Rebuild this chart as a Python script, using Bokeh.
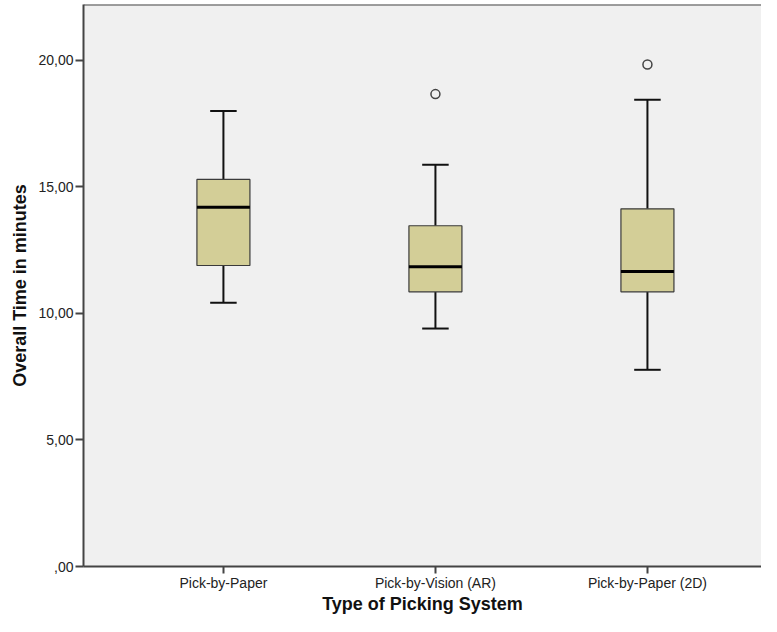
from bokeh.plotting import figure
from bokeh.models import FixedTicker, Span, Range1d
from bokeh.embed import file_html
from bokeh.resources import INLINE

# ---- data ----
categories = ["Pick-by-Paper", "Pick-by-Vision (AR)", "Pick-by-Paper (2D)"]
lower_whisker = [10.42, 9.40, 7.77]
q1 = [11.89, 10.85, 10.85]
median = [14.19, 11.84, 11.65]
q3 = [15.29, 13.46, 14.13]
upper_whisker = [17.99, 15.87, 18.44]
outlier_cat = ["Pick-by-Vision (AR)", "Pick-by-Paper (2D)"]
outlier_val = [18.66, 19.83]
y_ticks = [0, 5, 10, 15, 20]
y_tick_labels = [",00", "5,00", "10,00", "15,00", "20,00"]

pos = [i + 1 for i in range(len(categories))]
pos_of = dict(zip(categories, pos))
out_x = [pos_of[c] for c in outlier_cat]

BOX_W = 0.25
CAP_W = 0.125

p = figure(width=761, height=616, output_backend="svg", toolbar_location=None,
           x_range=Range1d(0.34, 3.538), y_range=Range1d(0, 22.2),
           min_border_left=83, min_border_right=0, min_border_top=4, min_border_bottom=50)

p.background_fill_color = "#f0f0f0"
p.border_fill_color = "white"
p.outline_line_color = None
p.xgrid.grid_line_color = None
p.ygrid.grid_line_color = None

# whiskers
p.segment(x0=pos, x1=pos, y0=q3, y1=upper_whisker, line_color="#111", line_width=2)
p.segment(x0=pos, x1=pos, y0=q1, y1=lower_whisker, line_color="#111", line_width=2)
# caps
p.segment(x0=[x - CAP_W / 2 for x in pos], x1=[x + CAP_W / 2 for x in pos],
          y0=upper_whisker, y1=upper_whisker, line_color="#111", line_width=2)
p.segment(x0=[x - CAP_W / 2 for x in pos], x1=[x + CAP_W / 2 for x in pos],
          y0=lower_whisker, y1=lower_whisker, line_color="#111", line_width=2)
# boxes
p.vbar(x=pos, width=BOX_W, bottom=q1, top=q3, fill_color="#d3ce97",
       line_color="#3a3a3a", line_width=1.2)
# medians
p.segment(x0=[x - BOX_W / 2 for x in pos], x1=[x + BOX_W / 2 for x in pos],
          y0=median, y1=median, line_color="black", line_width=3)
# outliers
p.scatter(x=out_x, y=outlier_val, marker="circle", size=9, fill_color=None,
          line_color="#444", line_width=1.5)

# top frame line
p.add_layout(Span(location=p.y_range.end, dimension="width", line_color="#444", line_width=2))

# axes
for ax in (p.xaxis[0], p.yaxis[0]):
    ax.axis_line_color = "#444"
    ax.axis_line_width = 2
    ax.major_tick_line_color = "#444"
    ax.major_tick_line_width = 2
    ax.major_tick_in = 0
    ax.major_tick_out = 8
    ax.minor_tick_line_color = None
    ax.major_label_text_font = "Liberation Sans"
    ax.major_label_text_font_size = "14px"
    ax.major_label_text_color = "#222"
    ax.axis_label_text_font = "Liberation Sans"
    ax.axis_label_text_font_style = "bold"
    ax.axis_label_text_font_size = "18px"
    ax.axis_label_text_color = "#111"

p.xaxis.ticker = FixedTicker(ticks=pos)
p.xaxis.major_label_overrides = {x: c for x, c in zip(pos, categories)}
p.xaxis.axis_label = "Type of Picking System"
p.xaxis.major_tick_out = 7
p.xaxis.major_label_standoff = 1
p.xaxis.axis_label_standoff = 0

p.yaxis.ticker = FixedTicker(ticks=y_ticks)
p.yaxis.major_label_overrides = {t: l for t, l in zip(y_ticks, y_tick_labels)}
p.yaxis.axis_label = "Overall Time in minutes"
p.yaxis.major_label_standoff = 2
p.yaxis.axis_label_standoff = 5

open("out.html", "w").write(file_html(p, INLINE))
